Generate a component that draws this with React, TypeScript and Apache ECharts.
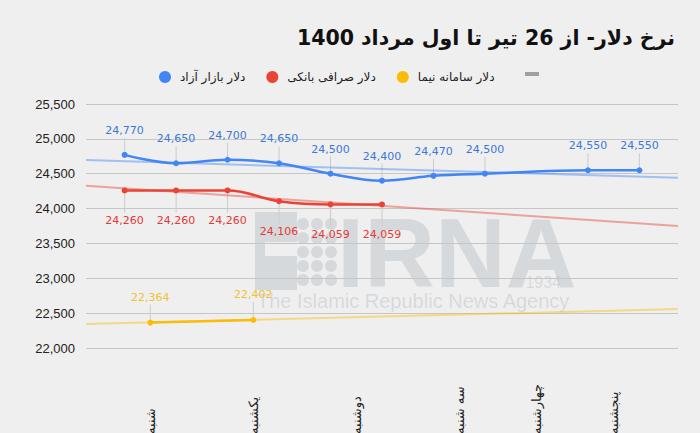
import React, { useEffect, useRef } from 'react';
import * as echarts from 'echarts';

const TITLE = 'نرخ دلار- از 26 تیر تا اول مرداد 1400';
const SERIES_NAMES = ['دلار بازار آزاد', 'دلار صرافی بانکی', 'دلار سامانه نیما'];
const DAY_LABELS = ['شنبه', 'یکشنبه', 'دوشنبه', 'سه شنبه', 'چهارشنبه', 'پنجشنبه'];
const DAY_POSITIONS = [0.5, 2.5, 4.5, 6.5, 8, 9.5];

const FREE_X = [0, 1, 2, 3, 4, 5, 6, 7, 9, 10];
const FREE_VALUES = [24770, 24650, 24700, 24650, 24500, 24400, 24470, 24500, 24550, 24550];
const BANK_X = [0, 1, 2, 3, 4, 5];
const BANK_VALUES = [24260, 24260, 24260, 24106, 24059, 24059];
const NIMA_X = [0.5, 2.5];
const NIMA_VALUES = [22364, 22402];

const TREND_X = [-0.75, 10.75];
const FREE_TREND = [24695, 24441];
const BANK_TREND = [24326, 23751];
const NIMA_TREND = [22344, 22558];

const Y_MIN = 22000;
const Y_MAX = 25500;
const Y_STEP = 500;

const BLUE = '#4285f4';
const RED = '#ea4335';
const YELLOW = '#fbbc04';

const fmt = (v: number) => String(v).replace(/\B(?=(\d{3})+(?!\d))/g, ',');

const pairs = (xs: number[], ys: number[]) => xs.map((x, i) => [x, ys[i]]);

const leader = (xs: number[], ys: number[], offset: number) => ({
  type: 'custom',
  silent: true,
  z: 1,
  data: pairs(xs, ys),
  renderItem: (_params: any, api: any) => {
    const p = api.coord([api.value(0), api.value(1)]);
    return {
      type: 'line',
      shape: { x1: p[0], y1: p[1], x2: p[0], y2: p[1] + offset },
      style: { stroke: '#cccccc', lineWidth: 1 },
    };
  },
});

const mainLine = (name: string, xs: number[], ys: number[], color: string, pos: string, dist: number, labelColor: string) => ({
  type: 'line',
  name,
  data: pairs(xs, ys),
  smooth: 0.4,
  connectNulls: true,
  symbol: 'circle',
  symbolSize: 6,
  lineStyle: { width: 2.5, color },
  itemStyle: { color },
  z: 5,
  label: {
    show: true,
    position: pos,
    distance: dist,
    color: labelColor,
    fontFamily: 'DejaVu Sans',
    fontSize: 11,
    formatter: (p: any) => fmt(p.value[1]),
  },
});

const trend = (ys: number[], color: string) => ({
  type: 'line',
  data: pairs(TREND_X, ys),
  symbol: 'none',
  silent: true,
  z: 3,
  lineStyle: { width: 2, color },
});

export default function App() {
  const ref = useRef<HTMLDivElement>(null);
  useEffect(() => {
    if (!ref.current) return;
    const chart = echarts.init(ref.current, null, { renderer: 'svg' });
    const wm = 'rgba(150,160,172,0.28)';
    const circles: any[] = [];
    [303, 317, 331].forEach((cx) =>
      [224, 238, 252, 266, 280].forEach((cy) =>
        circles.push({ type: 'circle', shape: { cx, cy, r: 6 }, style: { fill: wm } })
      )
    );
    chart.setOption({
      animation: false,
      backgroundColor: '#efefef',
      title: {
        text: TITLE,
        right: 20,
        top: 22,
        textStyle: { fontFamily: 'DejaVu Sans', fontSize: 20.5, fontWeight: 'bold', color: '#111' },
      },
      legend: {
        data: SERIES_NAMES,
        left: 154,
        top: 66,
        icon: 'circle',
        itemWidth: 12,
        itemHeight: 12,
        itemGap: 21,
        textStyle: { fontFamily: 'DejaVu Sans', fontSize: 12, color: '#222', padding: [0, 0, 0, 4] },
      },
      graphic: [
        { type: 'rect', left: 525, top: 72, shape: { width: 14, height: 4 }, style: { fill: '#a0a0a0' } },
        {
          type: 'group',
          silent: true,
          children: [
            { type: 'rect', shape: { x: 255, y: 212, width: 42, height: 30 }, style: { fill: wm } },
            { type: 'rect', shape: { x: 255, y: 242, width: 10, height: 14 }, style: { fill: wm } },
            { type: 'rect', shape: { x: 255, y: 256, width: 42, height: 34 }, style: { fill: wm } },
            ...circles,
            {
              type: 'text',
              style: { text: 'IRNA', x: 337, y: 253, fill: wm, font: 'bold 98px "Liberation Sans"', textVerticalAlign: 'middle' },
            },
            {
              type: 'text',
              style: { text: '1934', x: 561, y: 282, fill: wm, font: '16px "Liberation Sans"', textAlign: 'right', textVerticalAlign: 'middle' },
            },
            {
              type: 'text',
              style: { text: 'The Islamic Republic News Agency', x: 257, y: 301, fill: wm, font: '20px "Liberation Sans"', textVerticalAlign: 'middle' },
            },
          ],
        },
      ],
      grid: { left: 86, right: 22, top: 104, bottom: 85, outerBoundsMode: 'none', containLabel: false },
      xAxis: {
        type: 'value',
        min: -0.75,
        max: 10.75,
        interval: 0.25,
        splitLine: { show: false },
        axisLine: { show: false },
        axisTick: { show: false },
        axisLabel: {
          rotate: 90,
          align: 'left',
          verticalAlign: 'middle',
          margin: 86,
          fontFamily: 'DejaVu Sans',
          fontSize: 13,
          color: '#222',
          formatter: (v: number) => {
            const i = DAY_POSITIONS.findIndex((p) => Math.abs(p - v) < 1e-6);
            return i >= 0 ? DAY_LABELS[i] : '';
          },
        },
      },
      yAxis: {
        type: 'value',
        min: Y_MIN,
        max: Y_MAX,
        interval: Y_STEP,
        axisLine: { show: false },
        axisTick: { show: false },
        splitLine: { lineStyle: { color: '#c6c6c6', width: 1 } },
        axisLabel: {
          margin: 11,
          color: '#222',
          fontFamily: 'Liberation Sans',
          fontSize: 13,
          formatter: (v: number) => fmt(v),
        },
      },
      series: [
        trend(FREE_TREND, 'rgba(66,133,244,0.45)'),
        trend(BANK_TREND, 'rgba(234,67,53,0.45)'),
        trend(NIMA_TREND, 'rgba(251,188,4,0.45)'),
        leader(FREE_X, FREE_VALUES, -17),
        leader(BANK_X, BANK_VALUES, 22),
        leader(NIMA_X, NIMA_VALUES, -18),
        mainLine(SERIES_NAMES[0], FREE_X, FREE_VALUES, BLUE, 'top', 16, '#3c78d8'),
        mainLine(SERIES_NAMES[1], BANK_X, BANK_VALUES, RED, 'bottom', 22, '#e53935'),
        mainLine(SERIES_NAMES[2], NIMA_X, NIMA_VALUES, YELLOW, 'top', 17, '#f1c232'),
      ],
    });
    return () => chart.dispose();
  }, []);
  return <div ref={ref} style={{ position: 'absolute', left: 0, top: 0, width: 700, height: 433 }} />;
}
